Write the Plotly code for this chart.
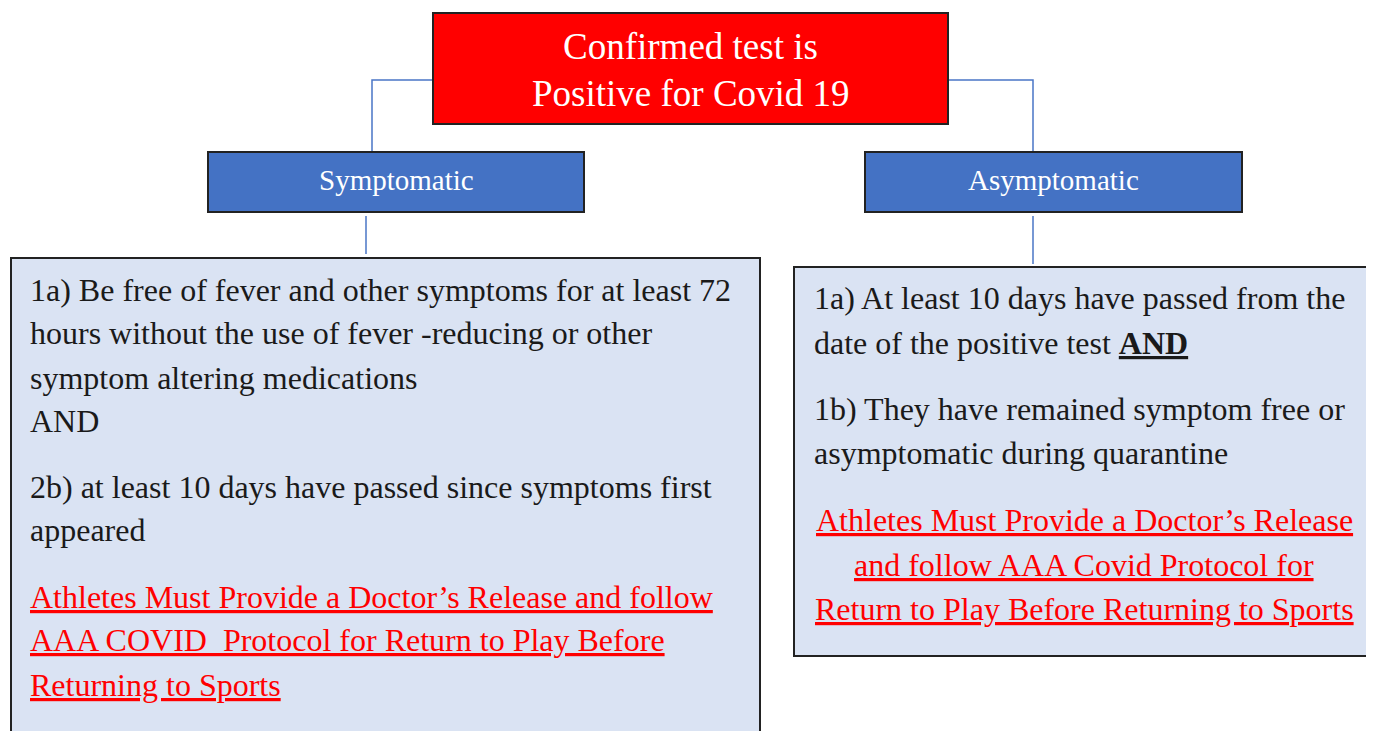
import plotly.graph_objects as go

W, H = 1374, 731
OFF = 8  # page body margin in the browser

# ---- text content ----
title_lines = ["Confirmed test is", "Positive for Covid 19"]
branch_labels = ["Symptomatic", "Asymptomatic"]

left_lines = [
    "1a) Be free of fever and other symptoms for at least 72",
    "hours without the use of fever -reducing or other",
    "symptom altering medications",
    "AND",
    "2b) at least 10 days have passed since symptoms first",
    "appeared",
]
left_red_lines = [
    "Athletes Must Provide a Doctor\u2019s Release and follow",
    "AAA COVID  Protocol for Return to Play Before",
    "Returning to Sports",
]
right_lines = [
    "1a) At least 10 days have passed from the",
    "date of the positive test <b><u>AND</u></b>",
    "1b) They have remained symptom free or",
    "asymptomatic during quarantine",
]
right_red_lines = [
    "Athletes Must Provide a Doctor\u2019s Release",
    "and follow AAA Covid Protocol for",
    "Return to Play Before Returning to Sports",
]

# ---- layout positions (pixels) ----
title_box = (433, 13, 948, 124)
title_y = [46, 93]
branch_boxes = [(208, 152, 584, 212), (865, 152, 1242, 212)]
left_box = (11, 258, 760, 760)
right_box = (794, 267, 1372, 656)
left_y = [290, 333, 378, 421, 487, 530]
left_red_y = [597, 640, 685]
right_y = [298, 343, 409, 453]
right_red_y = [520, 565, 609]

FONT = "Liberation Serif, Times New Roman, serif"
BORDER = "#222222"
BLUE = "#4472c4"
LIGHT = "#dae3f3"
RED = "#ff0000"
LINE = "#4a76c6"

fig = go.Figure()
shapes = []

def rect(b, fill, lw=2, lc=BORDER):
    shapes.append(dict(type="rect", xref="x", yref="y", x0=b[0], y0=b[1], x1=b[2], y1=b[3],
                       fillcolor=fill, line=dict(color=lc, width=lw), layer="above"))

def path(p):
    shapes.append(dict(type="path", xref="x", yref="y", path=p,
                       line=dict(color=LINE, width=1.5), layer="above"))

# connectors
path("M 433 80 L 372 80 L 372 152")
path("M 948 80 L 1033 80 L 1033 152")
path("M 366 216 L 366 254")
path("M 1033 216 L 1033 264")

rect(title_box, RED)
for b in branch_boxes:
    rect(b, BLUE)
rect(left_box, LIGHT)
rect(right_box, LIGHT)

ann = []
def text(x, y, t, size, color, anchor="left"):
    ann.append(dict(x=x, y=y, xref="x", yref="y", text=t, showarrow=False,
                    xanchor=anchor, yanchor="middle",
                    font=dict(family=FONT, size=size, color=color)))

cx = (title_box[0] + title_box[2]) / 2
for t, y in zip(title_lines, title_y):
    text(cx, y, t, 37, "white", "center")
for b, t in zip(branch_boxes, branch_labels):
    text((b[0] + b[2]) / 2, (b[1] + b[3]) / 2 - 2, t, 29, "white", "center")
for t, y in zip(left_lines, left_y):
    text(28, y, t, 32, "#1a1a1a")
for t, y in zip(left_red_lines, left_red_y):
    text(28, y, "<u>" + t + "</u>", 32, RED)
for t, y in zip(right_lines, right_y):
    text(812, y, t, 32, "#1a1a1a")
rcx = 1084
for t, y in zip(right_red_lines, right_red_y):
    text(rcx, y, "<u>" + t + "</u>", 32, RED, "center")

fig.update_layout(
    width=W - OFF, height=H - OFF,
    margin=dict(l=0, r=0, t=0, b=0),
    paper_bgcolor="white", plot_bgcolor="white",
    xaxis=dict(range=[OFF, W], visible=False, fixedrange=True),
    yaxis=dict(range=[H, OFF], visible=False, fixedrange=True),
    shapes=shapes, annotations=ann, showlegend=False,
)
fig.write_html("out.html")
